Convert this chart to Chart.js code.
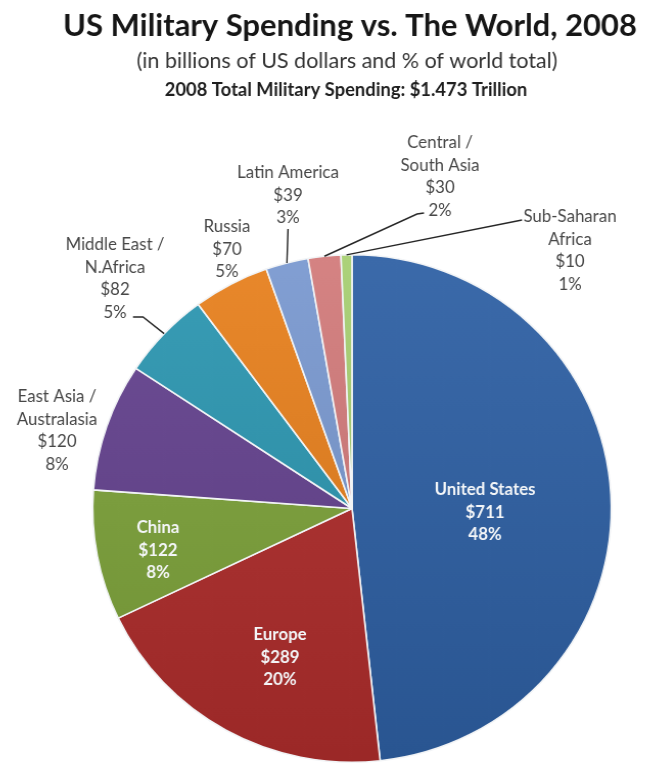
<!DOCTYPE html>
<html>
<head>
<meta charset="utf-8">
<title>US Military Spending vs. The World, 2008</title>
<script src="https://cdn.jsdelivr.net/npm/chart.js@4.4.1/dist/chart.umd.min.js"></script>
<style>
  html, body { margin: 0; padding: 0; background: #ffffff; overflow: hidden; }
  #wrap { width: 646px; height: 763px; }
  /* pie is drawn a touch wider than tall */
  #spendChart { transform: scaleX(1.022); transform-origin: 352px 0; }
</style>
</head>
<body>
<div id="wrap"><canvas id="spendChart" width="646" height="763"></canvas></div>
<script>
// spending by region, billions of US dollars (2008)
const regions = ['United States', 'Europe', 'China', 'East Asia / Australasia', 'Middle East / N.Africa',
                 'Russia', 'Latin America', 'Central / South Asia', 'Sub-Saharan Africa'];
const spending = [711, 289, 122, 120, 82, 70, 39, 30, 10];
const shareLabels = ['48%', '20%', '8%', '8%', '5%', '5%', '3%', '2%', '1%'];
const labelLines = [['United States'], ['Europe'], ['China'], ['East Asia /', 'Australasia'],
                    ['Middle East /', 'N.Africa'], ['Russia'], ['Latin America'],
                    ['Central /', 'South Asia'], ['Sub-Saharan', 'Africa']];
const sliceColors = ['#2f61a5', '#b02d2c', '#7ea43b', '#65438f', '#2c97b1',
                     '#e8801d', '#7a99d0', '#d27b7b', '#a7cf72'];

const titleText = 'US Military Spending vs. The World, 2008';
const subtitleText = '(in billions of US dollars and % of world total)';
const totalText = '2008 Total Military Spending: $1.473 Trillion';

// where each label block sits (center of first line) + optional leader elbows
const labelPlacement = [
  { x: 485, y: 490, inside: true },
  { x: 280, y: 635, inside: true },
  { x: 158, y: 528, inside: true },
  { x: 57,  y: 397 },
  { x: 115, y: 245, leader: [[143, 317], [133, 317]] },
  { x: 227, y: 227 },
  { x: 288, y: 173, leader: [[288, 229]] },
  { x: 440, y: 143, leader: [[417, 214], [424, 213]] },
  { x: 570, y: 217, leader: [[522, 220]] }
];
const LINE_H = 22.5;
const FONT = 'Lato, "Open Sans", "DejaVu Sans", sans-serif';
const STRETCH = 1.022, CX = 352;

// page x -> canvas x (undo the horizontal stretch)
const sx = x => CX + (x - CX) / STRETCH;

function shade(hex, amt) {
  const n = parseInt(hex.slice(1), 16);
  let r = (n >> 16) & 255, g = (n >> 8) & 255, b = n & 255;
  const f = v => Math.max(0, Math.min(255, Math.round(amt >= 0 ? v + (255 - v) * amt : v * (1 + amt))));
  return 'rgb(' + f(r) + ',' + f(g) + ',' + f(b) + ')';
}

// headings at the top of the canvas
const headings = {
  id: 'headings',
  beforeDraw(chart) {
    const c = chart.ctx;
    c.save();
    c.textAlign = 'center';
    c.textBaseline = 'alphabetic';
    c.fillStyle = '#161616';
    c.font = 'bold 30.3px ' + FONT;
    c.fillText(titleText, sx(350), 36);
    c.fillStyle = '#333333';
    c.font = '21px ' + FONT;
    c.fillText(subtitleText, sx(347), 68);
    c.fillStyle = '#1e1e1e';
    c.font = 'bold 18px ' + FONT;
    c.fillText(totalText, sx(346), 96);
    c.restore();
  }
};

// slice labels: name / $value / share, with leader lines for the thin slices
const sliceLabels = {
  id: 'sliceLabels',
  afterDatasetsDraw(chart) {
    const c = chart.ctx;
    const arcs = chart.getDatasetMeta(0).data;
    c.save();
    arcs.forEach((arc, i) => {
      const p = labelPlacement[i];
      if (p.leader) {
        const mid = (arc.startAngle + arc.endAngle) / 2;
        c.beginPath();
        c.moveTo(arc.x + Math.cos(mid) * arc.outerRadius, arc.y + Math.sin(mid) * arc.outerRadius);
        p.leader.forEach(pt => c.lineTo(sx(pt[0]), pt[1]));
        c.strokeStyle = '#262626';
        c.lineWidth = 1.4;
        c.stroke();
      }
      const lines = labelLines[i].concat(['$' + spending[i], shareLabels[i]]);
      c.textAlign = 'center';
      c.textBaseline = 'middle';
      c.font = (p.inside ? 'bold ' : '') + '16.5px ' + FONT;
      c.fillStyle = p.inside ? '#f4f6f8' : '#474747';
      lines.forEach((t, k) => c.fillText(t, sx(p.x), p.y + k * LINE_H));
    });
    c.restore();
  }
};

new Chart(document.getElementById('spendChart'), {
  type: 'pie',
  data: {
    labels: regions,
    datasets: [{
      data: spending,
      backgroundColor: ctx => {
        const area = ctx.chart.chartArea;
        const base = sliceColors[ctx.dataIndex];
        if (!area) return base;
        const g = ctx.chart.ctx.createLinearGradient(0, area.top, 0, area.bottom);
        g.addColorStop(0, shade(base, 0.06));
        g.addColorStop(1, shade(base, -0.12));
        return g;
      },
      borderColor: '#f2f4f6',
      borderWidth: 1.6
    }]
  },
  options: {
    responsive: false,
    animation: false,
    layout: { padding: { top: 254, left: 58, right: 0, bottom: 0 } },
    plugins: {
      legend: { display: false },
      tooltip: { enabled: false },
      title: { display: false }
    }
  },
  plugins: [headings, sliceLabels]
});
</script>
</body>
</html>
